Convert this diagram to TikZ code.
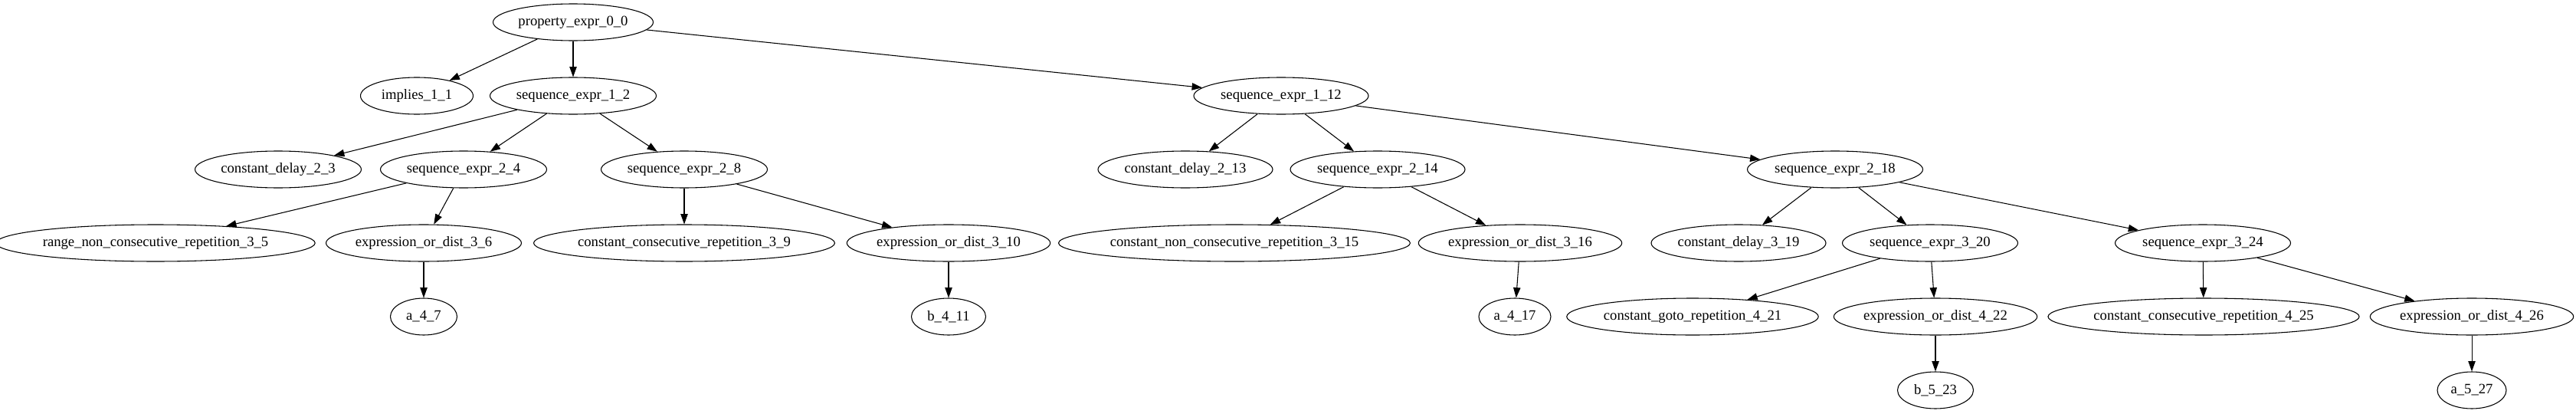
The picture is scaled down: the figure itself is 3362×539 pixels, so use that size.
\documentclass[tikz,border=0pt]{standalone}
\usepackage{fontspec}
\setmainfont{Liberation Serif}
\usetikzlibrary{shapes.geometric,arrows.meta}
\begin{document}
\begin{tikzpicture}[x=0.75pt,y=-0.75pt,
    wd/.style={minimum width=0.75pt*#1}]

      \useasboundingbox (0,0) rectangle (3362,539);

      \begin{scope}[every node/.style={ellipse,draw,line width=0.8pt,inner sep=0pt,
          minimum height=36pt,font=\fontsize{14pt}{16pt}\selectfont}]
        \node[wd=209] (0)  at (748,29)  {property\_expr\_0\_0};
        \node[wd=147] (1)  at (544,125) {implies\_1\_1};
        \node[wd=217] (2)  at (748,125) {sequence\_expr\_1\_2};
        \node[wd=217] (3)  at (363,221) {constant\_delay\_2\_3};
        \node[wd=217] (4)  at (605,221) {sequence\_expr\_2\_4};
        \node[wd=401] (5)  at (203,317) {range\_non\_consecutive\_repetition\_3\_5};
        \node[wd=255] (6)  at (553,317) {expression\_or\_dist\_3\_6};
        \node[wd=87]  (7)  at (553,413) {a\_4\_7};
        \node[wd=217] (8)  at (893,221) {sequence\_expr\_2\_8};
        \node[wd=386] (9)  at (893,317) {constant\_consecutive\_repetition\_3\_9};
        \node[wd=263] (10) at (1238,317) {expression\_or\_dist\_3\_10};
        \node[wd=97]  (11) at (1238,413) {b\_4\_11};
        \node[wd=228] (12) at (1672,125) {sequence\_expr\_1\_12};
        \node[wd=228] (13) at (1547,221) {constant\_delay\_2\_13};
        \node[wd=228] (14) at (1798,221) {sequence\_expr\_2\_14};
        \node[wd=437] (15) at (1611,317) {constant\_non\_consecutive\_repetition\_3\_15};
        \node[wd=263] (16) at (1984,317) {expression\_or\_dist\_3\_16};
        \node[wd=94]  (17) at (1977,413) {a\_4\_17};
        \node[wd=229] (18) at (2395,221) {sequence\_expr\_2\_18};
        \node[wd=228] (19) at (2269,317) {constant\_delay\_3\_19};
        \node[wd=229] (20) at (2519,317) {sequence\_expr\_3\_20};
        \node[wd=322] (21) at (2209,413) {constant\_goto\_repetition\_4\_21};
        \node[wd=263] (22) at (2526,413) {expression\_or\_dist\_4\_22};
        \node[wd=99]  (23) at (2526,509) {b\_5\_23};
        \node[wd=229] (24) at (2875,317) {sequence\_expr\_3\_24};
        \node[wd=391] (25) at (2876,413) {constant\_consecutive\_repetition\_4\_25};
        \node[wd=265] (26) at (3226,413) {expression\_or\_dist\_4\_26};
        \node[wd=90]  (27) at (3226,509) {a\_5\_27};
      \end{scope}

      \begin{scope}[every edge/.style={draw,line width=0.8pt,-{Triangle[length=10pt,width=7pt]}}]
        \path (0)  edge (1);
        \path (0)  edge (2);
        \path (0)  edge (12);
        \path (2)  edge (3);
        \path (2)  edge (4);
        \path (2)  edge (8);
        \path (4)  edge (5);
        \path (4)  edge (6);
        \path (6)  edge (7);
        \path (8)  edge (9);
        \path (8)  edge (10);
        \path (10) edge (11);
        \path (12) edge (13);
        \path (12) edge (14);
        \path (12) edge (18);
        \path (14) edge (15);
        \path (14) edge (16);
        \path (16) edge (17);
        \path (18) edge (19);
        \path (18) edge (20);
        \path (18) edge (24);
        \path (20) edge (21);
        \path (20) edge (22);
        \path (22) edge (23);
        \path (24) edge (25);
        \path (24) edge (26);
        \path (26) edge (27);
      \end{scope}

    \end{tikzpicture}
\end{document}
